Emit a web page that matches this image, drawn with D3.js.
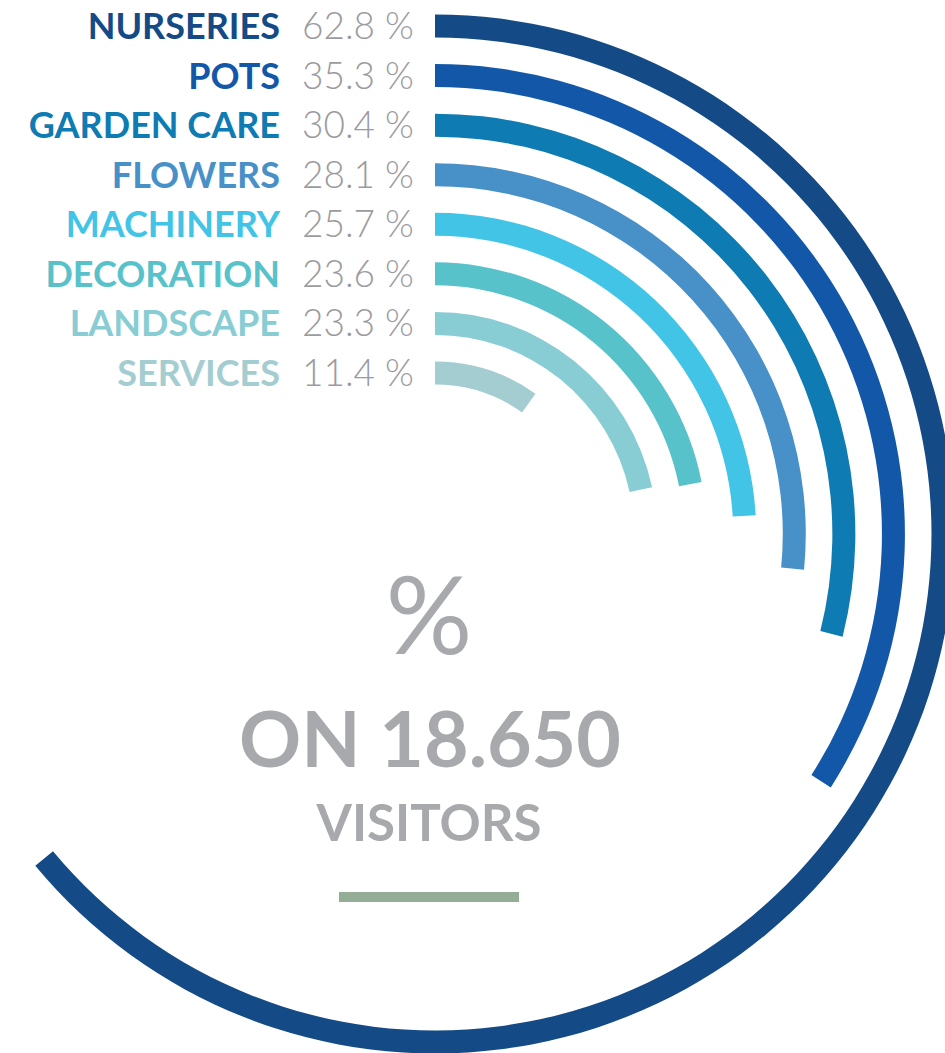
<!DOCTYPE html>
<html>
<head>
<meta charset="utf-8">
<script src="https://cdn.jsdelivr.net/npm/d3@7"></script>
<style>
  html, body { margin: 0; padding: 0; background: #ffffff; }
  svg { display: block; }
</style>
</head>
<body>
<script>
// ---- data ----
const categories = ["NURSERIES", "POTS", "GARDEN CARE", "FLOWERS", "MACHINERY", "DECORATION", "LANDSCAPE", "SERVICES"];
const values = [62.8, 35.3, 30.4, 28.1, 25.7, 23.6, 23.3, 11.4];
const colors = ["#144a85", "#1358a8", "#0e7bb2", "#4890c8", "#42c4e6", "#58c2ca", "#88cdd3", "#a3cdd0"];
const centerSymbol = "%";
const centerTitle = "ON 18.650";
const centerSubtitle = "VISITORS";

// ---- layout ----
const W = 945, H = 1053;
const cx = 435, cy = 534;
const band = 23;

const svg = d3.select("body").append("svg").attr("width", W).attr("height", H);
const g = svg.append("g").attr("transform", `translate(${cx},${cy})`);

const rScale = d3.scalePoint().domain(categories).range([508, 161]);
const aScale = d3.scalePow().exponent(1.094)
  .domain([0, d3.max(values)])
  .range([0, 230.3 * Math.PI / 180]);

const arc = d3.arc()
  .innerRadius(d => rScale(d.cat) - band / 2)
  .outerRadius(d => rScale(d.cat) + band / 2)
  .startAngle(0)
  .endAngle(d => aScale(d.value));

const rows = categories.map((c, i) => ({ cat: c, value: values[i], color: colors[i] }));

g.selectAll("path.bar").data(rows).join("path")
  .attr("class", "bar")
  .attr("d", arc)
  .attr("fill", d => d.color);

// labels
const labelFont = "Lato, Roboto, 'Open Sans', Arial, sans-serif";
g.selectAll("text.cat").data(rows).join("text")
  .attr("class", "cat")
  .attr("x", -155)
  .attr("y", d => -rScale(d.cat) + 13)
  .attr("text-anchor", "end")
  .attr("font-family", labelFont)
  .attr("font-weight", 700)
  .attr("font-size", 36)
  .attr("fill", d => d.color)
  .text(d => d.cat);

g.selectAll("text.val").data(rows).join("text")
  .attr("class", "val")
  .attr("x", -133)
  .attr("y", d => -rScale(d.cat) + 13)
  .attr("text-anchor", "start")
  .attr("font-family", labelFont)
  .attr("font-weight", 300)
  .attr("font-size", 37)
  .attr("fill", "#9b9b9f")
  .text(d => d3.format(".1f")(d.value) + " %");

// center text
const grey = "#a7a9ac";
svg.append("text")
  .attr("x", 429).attr("y", 654)
  .attr("text-anchor", "middle")
  .attr("font-family", labelFont)
  .attr("font-weight", 400)
  .attr("font-size", 108)
  .attr("fill", grey)
  .text(centerSymbol);

svg.append("text")
  .attr("x", 430).attr("y", 767)
  .attr("text-anchor", "middle")
  .attr("font-family", labelFont)
  .attr("font-weight", 700)
  .attr("font-size", 77)
  .attr("fill", grey)
  .text(centerTitle);

svg.append("text")
  .attr("x", 429).attr("y", 841)
  .attr("text-anchor", "middle")
  .attr("font-family", labelFont)
  .attr("font-weight", 700)
  .attr("font-size", 51)
  .attr("fill", grey)
  .text(centerSubtitle);

svg.append("rect")
  .attr("x", 339).attr("y", 892)
  .attr("width", 180).attr("height", 10)
  .attr("fill", "#94ad97");
</script>
</body>
</html>
